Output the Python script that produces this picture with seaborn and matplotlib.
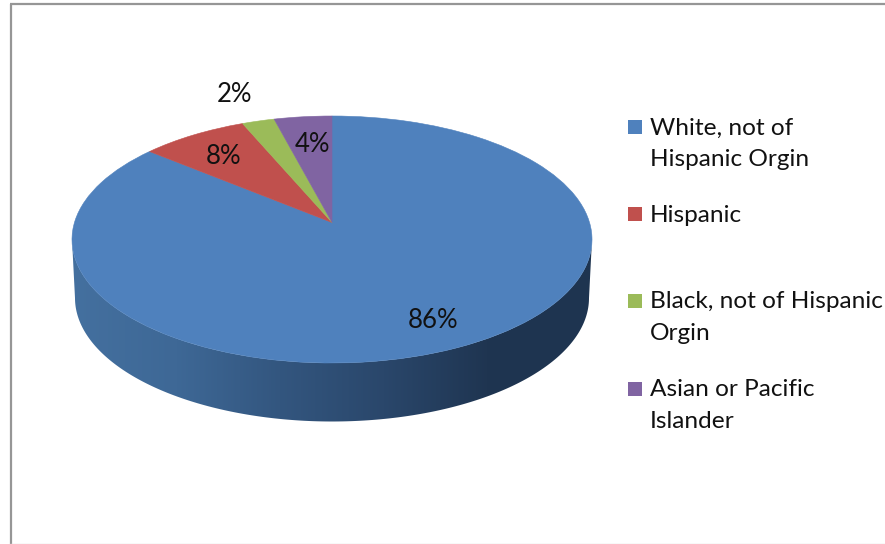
import numpy as np
import matplotlib
matplotlib.use("Agg")
import matplotlib.pyplot as plt
from matplotlib.patches import Polygon, Rectangle
from matplotlib.transforms import Transform
import seaborn as sns

categories = ["White, not of\nHispanic Orgin", "Hispanic",
              "Black, not of Hispanic\nOrgin", "Asian or Pacific\nIslander"]
values = [86, 7.6, 2.3, 4.1]
value_labels = ["86%", "8%", "2%", "4%"]
slice_colors = ["#4f81bd", "#c0504d", "#9bbb59", "#8064a2"]
wall_colors = ["#44709f", "#3e6896", "#33567f", "#2a476b", "#1f3551", "#1e3450"]

sns.set_theme(style="white")
plt.rcParams["font.family"] = ["Lato", "DejaVu Sans"]

# Perspective of the tilted disc, in figure pixels
CX, CY, RY = 332.0, 239.5, 123.5
KP = 34.0 / (2 * RY)
RX = 260.0 * np.sqrt(1 - KP ** 2)


def project(u, v, a=RX, dy=0.0):
    w = 1 + KP * v
    return CX + a * u / w, CY + dy - (RY * v + 17.0) / w


class Tilt(Transform):
    input_dims = output_dims = 2
    is_separable = False
    has_inverse = False

    def transform_non_affine(self, values):
        values = np.asarray(values, dtype=float)
        x, y = project(values[:, 0], values[:, 1])
        return np.column_stack([x, y])


fig = plt.figure(figsize=(8.85, 5.44), dpi=100, facecolor="white")
ax = fig.add_axes([0, 0, 1, 1])

# side wall of the disc: gradient clipped to the hull of its two rims
phi = np.linspace(np.pi + np.arcsin(KP), 2 * np.pi - np.arcsin(KP), 200)
bx, by = project(np.cos(phi), np.sin(phi), a=RX * 257 / 260, dy=58.5)
tx, ty = project(np.cos(phi), np.sin(phi))
hull = Polygon(np.column_stack([np.r_[bx, tx[::-1]], np.r_[by, ty[::-1]]]),
               closed=True, transform=ax.transData, facecolor="none", edgecolor="none")
ax.add_patch(hull)
wall_cmap = sns.blend_palette(wall_colors, as_cmap=True)
im = ax.imshow(np.linspace(0, 1, 256)[None, :], cmap=wall_cmap, aspect="auto",
               extent=(72, 592, 430, 230), zorder=1)
im.set_clip_path(hull)

# top of the disc: real pie wedges, pushed through the perspective
wedges, _ = ax.pie(values, colors=slice_colors, startangle=90, counterclock=False,
                   wedgeprops=dict(linewidth=0.4))
tilt = Tilt()
for w, c in zip(wedges, slice_colors):
    w.set_transform(tilt + ax.transData)
    w.set_edgecolor(c)
    w.set_zorder(2)

ax.set_aspect("auto")
ax.set_axis_off()

# value labels
label_font = dict(fontsize=18.5, color="#111111", ha="center", va="center", zorder=5)
label_pos = [(433, 321), (224, 156), (235, 94), (312, 145)]
for txt, (x, y) in zip(value_labels, label_pos):
    ax.text(x, y, txt, **label_font)

# legend
legend_y = [127, 214, 301, 389]
for name, c, y in zip(categories, slice_colors, legend_y):
    ax.add_patch(Rectangle((628, y - 7), 14, 14, facecolor=c, edgecolor="none", zorder=5))
    for i, line in enumerate(name.split("\n")):
        ax.text(650, y + 1 + 32 * i, line, fontsize=17.6, color="#111111",
                ha="left", va="center", zorder=5)

# outer chart frame
frame = dict(color="#969696", linewidth=1.6, zorder=6, solid_capstyle="butt")
ax.plot([10.5, 10.5], [4, 544], **frame)
ax.plot([10, 885], [4, 4], **frame)
ax.plot([10, 885], [543.5, 543.5], color="#e0e0e0", linewidth=1, zorder=6)
ax.set_xlim(0, 885)
ax.set_ylim(544, 0)

fig.savefig("out.png", dpi=100, facecolor="white")
